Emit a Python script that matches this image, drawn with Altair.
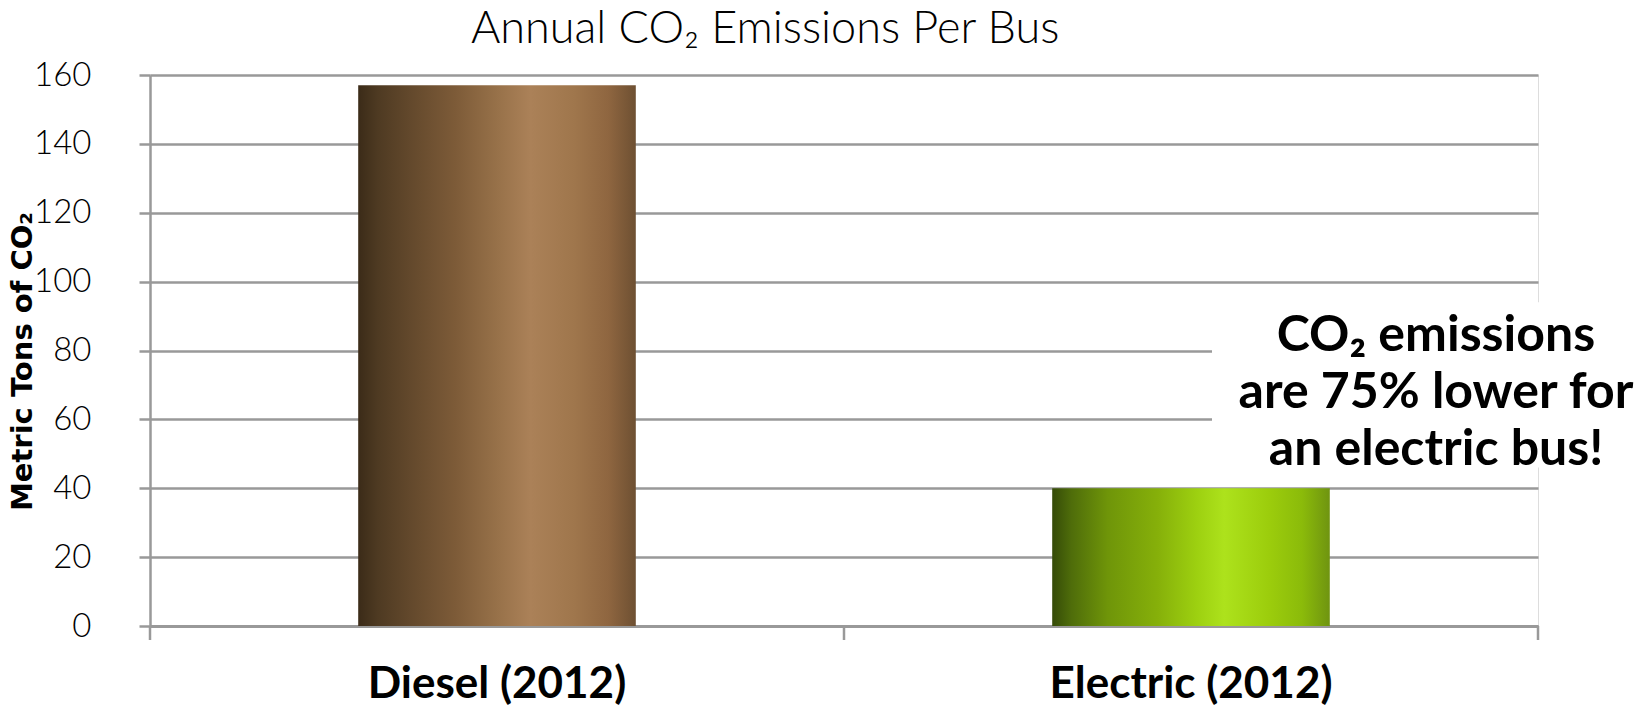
import altair as alt
import pandas as pd

categories = ["Diesel (2012)", "Electric (2012)"]
values = [157, 40]
title_text = "Annual CO\u2082 Emissions Per Bus"
y_title = "Metric Tons of CO\u2082"
note_lines = ["CO\u2082 emissions", "are 75% lower for", "an electric bus!"]
boundaries = [0, 1, 2]  # category band boundaries for the x tick marks

df = pd.DataFrame({"cat": categories, "val": values})

W, H = 1388, 551
FONT = "Lato"

x_enc = alt.X("cat:N", sort=categories,
              scale=alt.Scale(paddingInner=0.6, paddingOuter=0.3),
              axis=alt.Axis(title=None, labelAngle=0, labelFont=FONT, labelFontWeight="bold",
                            labelFontSize=44, labelColor="#000", labelPadding=22, labelLimit=0,
                            tickSize=14, tickOpacity=0,
                            domainColor="#999", domainWidth=3, grid=False))
y_enc = alt.Y("val:Q", scale=alt.Scale(domain=[0, 160], nice=False),
              axis=alt.Axis(values=list(range(0, 161, 20)), title=y_title,
                            titleFont="DejaVu Sans", titleFontSize=29, titleFontWeight="bold",
                            titleColor="#000",
                            titleAngle=270, titleX=-128, titleY=286, titleAlign="center",
                            titleBaseline="middle",
                            labelFont=FONT, labelFontWeight=300, labelFontSize=33, labelColor="#000",
                            labelPadding=48, tickSize=11, tickColor="#999", tickWidth=2.5,
                            domainColor="#999", domainWidth=2.5,
                            grid=True, gridColor="#999", gridWidth=2.5))

diesel_grad = alt.Gradient(gradient="linear", x1=0, x2=1, y1=0, y2=0, stops=[
    alt.GradientStop(color="#3b2b18", offset=0),
    alt.GradientStop(color="#4e3a22", offset=0.07),
    alt.GradientStop(color="#654a2d", offset=0.2),
    alt.GradientStop(color="#7d5b38", offset=0.35),
    alt.GradientStop(color="#977149", offset=0.5),
    alt.GradientStop(color="#ab8158", offset=0.62),
    alt.GradientStop(color="#9f764c", offset=0.78),
    alt.GradientStop(color="#8f6640", offset=0.9),
    alt.GradientStop(color="#6e5032", offset=1),
])
electric_grad = alt.Gradient(gradient="linear", x1=0, x2=1, y1=0, y2=0, stops=[
    alt.GradientStop(color="#354b08", offset=0),
    alt.GradientStop(color="#4f6d0a", offset=0.07),
    alt.GradientStop(color="#6f9509", offset=0.2),
    alt.GradientStop(color="#86b00a", offset=0.38),
    alt.GradientStop(color="#9dd010", offset=0.52),
    alt.GradientStop(color="#ade21c", offset=0.62),
    alt.GradientStop(color="#9ccd0c", offset=0.78),
    alt.GradientStop(color="#8bbb0a", offset=0.9),
    alt.GradientStop(color="#6f9410", offset=1),
])

base = alt.Chart(df)
diesel = base.transform_filter(alt.datum.cat == categories[0]).mark_bar(color=diesel_grad).encode(x=x_enc, y=y_enc)
electric = base.transform_filter(alt.datum.cat == categories[1]).mark_bar(color=electric_grad).encode(x=x_enc, y=y_enc)

mask_df = pd.DataFrame({"y1": [46], "y2": [94]})
mask = alt.Chart(mask_df).mark_rect(color="white").encode(
    x=alt.value(1062), x2=alt.value(1400),
    y=alt.Y("y1:Q"), y2="y2:Q")

note_df = pd.DataFrame({"t": [note_lines], "yv": [80]})
note = alt.Chart(note_df).mark_text(font=FONT, fontWeight="bold", fontSize=50, color="#000",
                                    align="center", baseline="alphabetic", lineHeight=57).encode(
    x=alt.value(1286), y=alt.Y("yv:Q"), text="t")

main = alt.layer(diesel, electric, mask, note)

ticks_df = pd.DataFrame({"b": boundaries})
xticks = alt.Chart(ticks_df).mark_rule(color="#999", strokeWidth=2.5).encode(
    x=alt.X("b:Q", scale=alt.Scale(domain=[0, 2], nice=False), axis=None),
    y=alt.value(H), y2=alt.value(H + 14))

chart = alt.layer(main, xticks).resolve_scale(x="independent").properties(
    width=W, height=H,
    title=alt.TitleParams(title_text, font=FONT, fontWeight=300, fontSize=45, color="#000",
                          anchor="start", frame="group", dx=321, offset=7),
    autosize=alt.AutoSizeParams(type="none"),
    padding={"left": 150, "top": 75, "right": 105, "bottom": 81},
).configure_view(stroke=None).configure(background="white")

chart.save("out.html", embed_options={"renderer": "svg", "actions": False})
